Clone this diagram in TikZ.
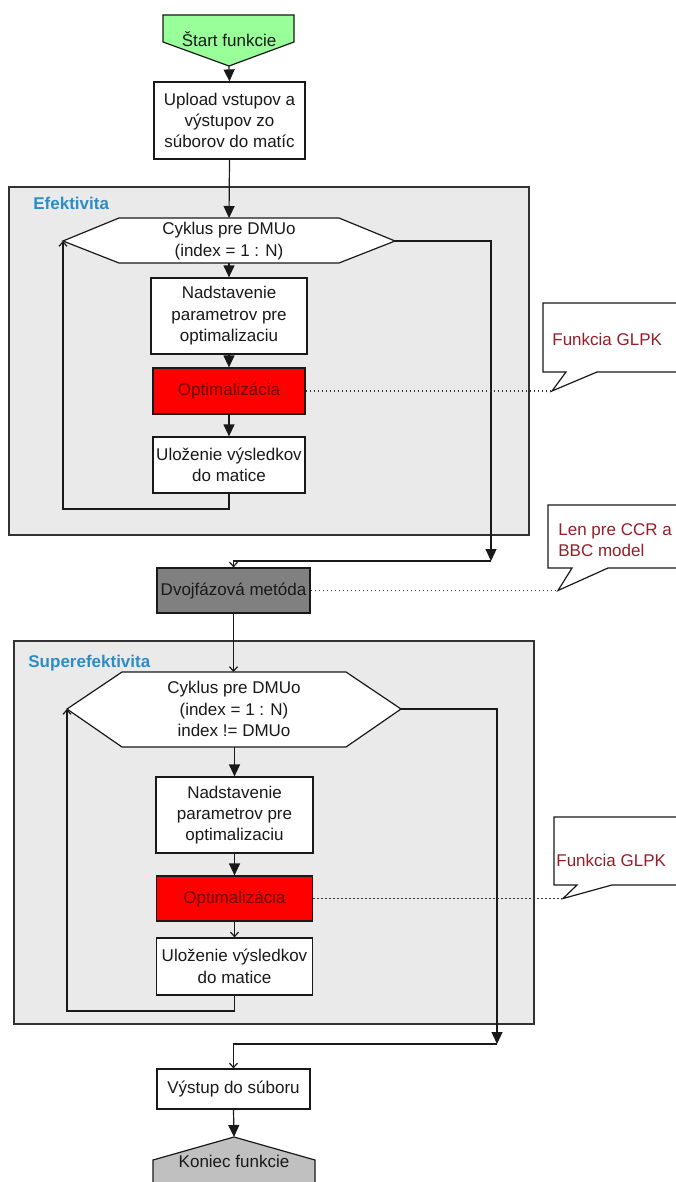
\documentclass[tikz,border=0pt]{standalone}
\usepackage{fontspec}
\setmainfont{Liberation Sans}
\usetikzlibrary{arrows.meta}
\definecolor{grpfill}{RGB}{234,234,234}
\definecolor{grpline}{RGB}{50,50,50}
\definecolor{grptext}{RGB}{46,140,196}
\definecolor{startgreen}{RGB}{153,255,153}
\definecolor{optred}{RGB}{255,0,0}
\definecolor{opttext}{RGB}{110,0,0}
\definecolor{dvojgray}{RGB}{128,128,128}
\definecolor{endgray}{RGB}{192,192,192}
\definecolor{calltext}{RGB}{150,30,40}
\definecolor{ink}{RGB}{25,25,25}
\definecolor{dotc}{RGB}{55,55,55}
\begin{document}
\begin{tikzpicture}[x=0.5pt,y=-0.5pt,
  font=\fontsize{8.5}{10.7}\selectfont,
  every node/.style={text=ink},
  procbox/.style={draw=ink, line width=0.6pt, fill=white, inner sep=0pt, align=center},
  shapeline/.style={draw=ink, line width=0.6pt},
  bigarr/.style={draw=ink, line width=0.6pt, -{Triangle[length=6pt,width=5.5pt]}},
  smallarr/.style={draw=ink, line width=0.6pt, -{Straight Barb[length=2.2pt,width=4pt]}},
  dotline/.style={draw=dotc, line width=0.7pt, dash pattern=on 0.9pt off 1.1pt},
  grouplabel/.style={font=\fontsize{8.5}{10}\selectfont\bfseries, text=grptext, anchor=west, inner sep=0pt},
  calltxt/.style={text=calltext, align=left, anchor=west, inner sep=0pt},
  groupbox/.style={fill=grpfill, draw=grpline, line width=0.6pt},
]
\useasboundingbox (0,0) rectangle (675,1182);

% group backgrounds
\path[groupbox] (9,187) rectangle (529,535);
\path[groupbox] (14,641) rectangle (534,1024);
\node[grouplabel] (lab1) at (33,203) {Efektivita};
\node[grouplabel] (lab2) at (28,663) {Superefektivita};

% start
\path[shapeline, fill=startgreen] (163,15) -- (294,15) -- (294,42) -- (229,66) -- (163,42) -- cycle;
\coordinate (startB) at (229,66);
\node (start) at (229,39) {Štart funkcie};

\node[procbox, minimum width=75.5pt, minimum height=38.5pt] (upload) at (229.5,120.5) {Upload vstupov a\\výstupov zo\\súborov do matíc};

% loop 1
\path[shapeline, fill=white] (63,241) -- (119,218) -- (339,218) -- (395,241) -- (339,263) -- (119,263) -- cycle;
\coordinate (hex1T) at (229,218);
\coordinate (hex1B) at (229,263);
\coordinate (hex1L) at (63,241);
\coordinate (hex1R) at (395,241);
\node[align=center, inner sep=0pt] (hex1) at (229,241) {Cyklus pre DMUo\\(index = 1 : N)};

\node[procbox, minimum width=78pt, minimum height=38pt] (nad1) at (229,316) {Nadstavenie\\parametrov pre\\optimalizaciu};
\node[procbox, fill=optred, text=opttext, minimum width=76pt, minimum height=23pt] (opt1) at (229,391) {Optimalizácia};
\node[procbox, minimum width=76pt, minimum height=28pt] (ulo1) at (229,465) {Uloženie výsledkov\\do matice};

\node[procbox, fill=dvojgray, minimum width=76.5pt, minimum height=22.5pt] (dvoj) at (233.5,590.5) {Dvojfázová metóda};

% loop 2
\path[shapeline, fill=white] (67,709) -- (122,672) -- (346,672) -- (401,709) -- (346,747) -- (122,747) -- cycle;
\coordinate (hex2T) at (233.5,672);
\coordinate (hex2B) at (234.5,747);
\coordinate (hex2L) at (67,709);
\coordinate (hex2R) at (401,709);
\node[align=center, inner sep=0pt] (hex2) at (234,709) {Cyklus pre DMUo\\(index = 1 : N)\\index != DMUo};

\node[procbox, minimum width=78.5pt, minimum height=38pt] (nad2) at (234.5,815) {Nadstavenie\\parametrov pre\\optimalizaciu};
\node[procbox, fill=optred, text=opttext, minimum width=78pt, minimum height=22.5pt] (opt2) at (234.5,898.5) {Optimalizácia};
\node[procbox, minimum width=78pt, minimum height=28.5pt] (ulo2) at (234.5,966.5) {Uloženie výsledkov\\do matice};

\node[procbox, minimum width=76.5pt, minimum height=20pt] (vys) at (233.5,1089) {Výstup do súboru};

% end
\path[shapeline, fill=endgray] (153,1200) -- (153,1160) -- (234,1137) -- (315,1160) -- (315,1200) -- cycle;
\coordinate (konT) at (234,1137);
\node (koniec) at (234,1161) {Koniec funkcie};

% callouts
\path[shapeline, fill=white] (543,303) -- (690,303) -- (690,372) -- (597,372) -- (552,391) -- (566,372) -- (543,372) -- cycle;
\coordinate (tip1) at (552,391);
\node[calltxt] (call1) at (552,339) {Funkcia GLPK};

\path[shapeline, fill=white] (548,505) -- (690,505) -- (690,568) -- (608,568) -- (558,590.5) -- (572,568) -- (548,568) -- cycle;
\coordinate (tip2) at (558,590.5);
\node[calltxt] (call2) at (558,540) {Len pre CCR a\\BBC model};

\path[shapeline, fill=white] (554,817) -- (690,817) -- (690,885) -- (612,885) -- (563,898.5) -- (577,885) -- (554,885) -- cycle;
\coordinate (tip3) at (563,898.5);
\node[calltxt] (call3) at (556,860) {Funkcia GLPK};

% connectors
\draw[bigarr] (startB) -- (upload.north);
\draw[bigarr] (upload.south) -- (hex1T);
\draw[bigarr] (hex1B) -- (nad1.north);
\draw[bigarr] (nad1.south) -- (opt1.north);
\draw[bigarr] (opt1.south) -- (ulo1.north);
\coordinate (loop1) at (63,509);
\draw[smallarr] (ulo1.south) |- (loop1) -- (hex1L);
\coordinate (exit1) at (491,561);
\draw[bigarr] (hex1R) -| (exit1);
\draw[smallarr] (exit1) -| (dvoj.north);
\draw[smallarr] (dvoj.south) -- (hex2T);
\draw[bigarr] (hex2B) -- (nad2.north);
\draw[bigarr] (nad2.south) -- (opt2.north);
\draw[smallarr] (opt2.south) -- (ulo2.north);
\coordinate (loop2) at (67,1011);
\draw[smallarr] (ulo2.south) |- (loop2) -- (hex2L);
\coordinate (exit2) at (497,1044);
\draw[bigarr] (hex2R) -| (exit2);
\draw[smallarr] (exit2) -| (vys.north);
\draw[bigarr] (vys.south) -- (konT);

\draw[dotline] (opt1.east) -- (tip1);
\draw[dotline] (dvoj.east) -- (tip2);
\draw[dotline] (opt2.east) -- (tip3);
\end{tikzpicture}
\end{document}
